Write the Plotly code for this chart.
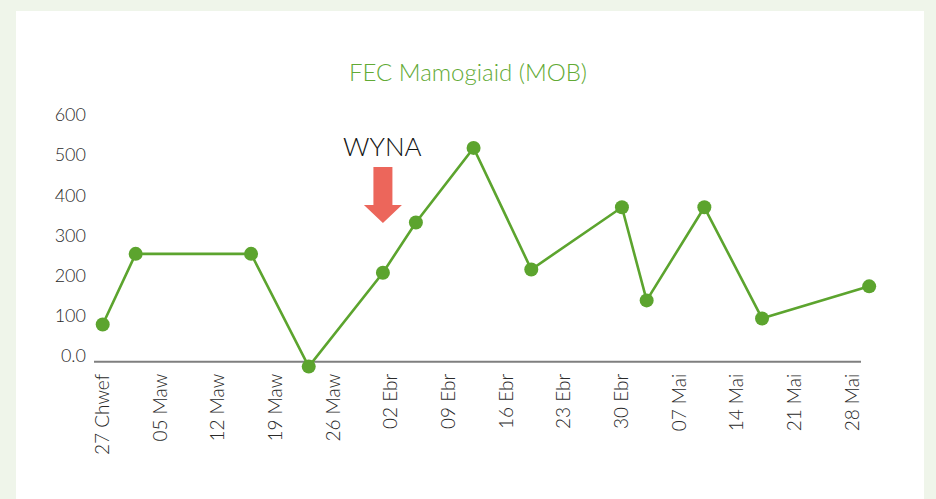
import plotly.graph_objects as go

# sample dates and FEC counts
dates = [
    "2024-02-27", "2024-03-02", "2024-03-16", "2024-03-23", "2024-04-01",
    "2024-04-05", "2024-04-12", "2024-04-19", "2024-04-30", "2024-05-03",
    "2024-05-10", "2024-05-17", "2024-05-30",
]
fec = [93, 269, 269, -12, 222, 347, 533, 230, 385, 153, 385, 108, 188]

tick_dates = [
    "2024-02-27", "2024-03-05", "2024-03-12", "2024-03-19", "2024-03-26",
    "2024-04-02", "2024-04-09", "2024-04-16", "2024-04-23", "2024-04-30",
    "2024-05-07", "2024-05-14", "2024-05-21", "2024-05-28",
]
tick_labels = [
    "27 Chwef", "05 Maw", "12 Maw", "19 Maw", "26 Maw", "02 Ebr", "09 Ebr",
    "16 Ebr", "23 Ebr", "30 Ebr", "07 Mai", "14 Mai", "21 Mai", "28 Mai",
]
y_ticks = [0, 100, 200, 300, 400, 500, 600]
y_labels = ["0.0", "100", "200", "300", "400", "500", "600"]

lambing_date = "2024-04-01"

W, H = 936, 499
L, R, T, B = 94, 56, 121, 130
AXIS_END = 861  # px where the grey base line stops
GREEN = "#5ca42e"
TEXT = "#2a2a2a"
FONT = "Lato, 'Open Sans', sans-serif"


def paper_x(px):
    return (px - L) / (W - L - R)


def paper_y(py):
    return (H - B - py) / (H - T - B)


fig = go.Figure()
fig.add_trace(
    go.Scatter(
        x=dates,
        y=fec,
        mode="lines+markers",
        line=dict(color=GREEN, width=2.6),
        marker=dict(color=GREEN, size=14),
        cliponaxis=False,
        showlegend=False,
    )
)

# white card on the pale green page
fig.add_shape(
    type="rect", xref="paper", yref="paper", layer="below",
    x0=paper_x(16), x1=paper_x(924), y0=paper_y(H + 5), y1=paper_y(11),
    fillcolor="white", line_width=0,
)

# grey base line at zero
fig.add_shape(
    type="line", xref="paper", yref="y", layer="below",
    x0=0, x1=paper_x(AXIS_END), y0=0, y1=0,
    line=dict(color="#7f7f7f", width=2),
)

# red "lambing" arrow
fig.add_shape(
    type="path",
    xref="x", yref="y",
    xsizemode="pixel", ysizemode="pixel",
    xanchor=lambing_date, yanchor=346,
    path="M0,0 L-19,18 L-9.5,18 L-9.5,56 L9.5,56 L9.5,18 L19,18 Z",
    fillcolor="#ec665b", line_width=0,
)
fig.add_annotation(
    x=lambing_date, y=538, text="WYNA", showarrow=False,
    xanchor="center", yanchor="middle",
    font=dict(family=FONT, size=26, color="#111111", weight=300),
)

fig.update_layout(
    width=W,
    height=H,
    margin=dict(l=L, r=R, t=T, b=B),
    paper_bgcolor="#eff5ea",
    plot_bgcolor="rgba(0,0,0,0)",
    font=dict(family=FONT, color=TEXT),
    title=dict(
        text="FEC Mamogiaid (MOB)",
        x=0.5, xanchor="center",
        y=1 - 73 / H, yanchor="middle",
        font=dict(family=FONT, size=24, color="#62aa35", weight=300),
    ),
    xaxis=dict(
        range=["2024-02-25 22:40", "2024-05-31 07:30"],
        tickmode="array",
        tickvals=tick_dates,
        ticktext=tick_labels,
        tickangle=-90,
        tickfont=dict(size=19, color=TEXT, weight=300),
        showgrid=False,
        zeroline=False,
        showline=False,
        ticks="",
    ),
    yaxis=dict(
        range=[-18, 600],
        tickmode="array",
        tickvals=y_ticks,
        ticktext=y_labels,
        tickfont=dict(size=18, color=TEXT, weight=300),
        ticklabelshift=-6,
        ticklabelstandoff=7,
        showgrid=False,
        zeroline=False,
        showline=False,
        ticks="",
    ),
)

fig.write_html(
    "out.html",
    config={"displayModeBar": False},
    post_script="document.body.style.margin = '0';",
)
